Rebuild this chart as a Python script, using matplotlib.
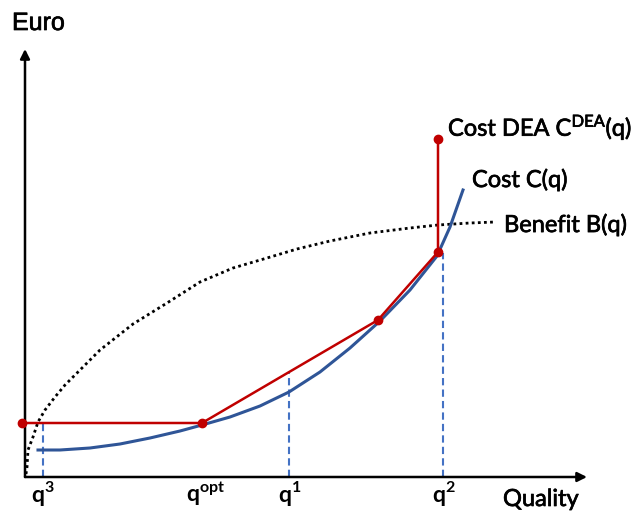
"""Esquema custo / benefício com fronteira DEA."""

import matplotlib

matplotlib.use("Agg")
import matplotlib.pyplot as plt
import matplotlib.patheffects as pe

plt.rcParams["mathtext.fontset"] = "custom"
plt.rcParams["mathtext.rm"] = "Lato"
plt.rcParams["mathtext.bf"] = "Lato:bold"

# curva de custo C(q)
custo_q = [13, 35, 65, 95, 125, 155, 177, 205, 235, 264, 295, 325, 355, 385, 412, 425, 438]
custo_euro = [27, 27, 29, 33, 39, 46, 52, 60, 71, 85, 105, 129, 156, 187, 221, 250, 287]

# curva de benefício B(q)
beneficio_q = [1, 2, 3, 8, 13, 20, 30, 40, 57, 75, 108, 142, 175, 208, 242, 272,
               305, 345, 385, 413, 445, 470]
beneficio_euro = [3, 10, 27, 40, 55, 67, 80, 92, 109, 127, 153, 174, 195, 209, 219, 228,
                  236, 244, 249, 252, 254, 255]

# fronteira DEA
dea_q = [-3, 177, 353, 413, 413]
dea_euro = [54, 54, 157, 225, 338]

# linhas de referência tracejadas
ref_q = [18, 264, 418]
ref_topo = [54, 105, 224]

# rótulos do eixo de qualidade
rotulos_q = [18, 181, 265, 419]
rotulos_txt = [r"$\mathbf{q}^{\mathbf{3}}$", r"$\mathbf{q}^{\mathbf{opt}}$",
               r"$\mathbf{q}^{\mathbf{1}}$", r"$\mathbf{q}^{\mathbf{2}}$"]

fig = plt.figure(figsize=(6.32, 5.15), dpi=100)
eixo = fig.add_axes([0, 0, 1, 1])
eixo.set_xlim(-25, 607)
eixo.set_ylim(-38, 477)
eixo.axis("off")

seta = dict(arrowstyle="-|>", mutation_scale=14, lw=1.8, color="black",
            shrinkA=0, shrinkB=0)
eixo.annotate("", xy=(0, 428), xytext=(0, 0), arrowprops=seta)
eixo.annotate("", xy=(562, 0), xytext=(0, 0), arrowprops=seta)

for x, topo in zip(ref_q, ref_topo):
    eixo.plot([x, x], [0, topo], color="#4472C4", lw=1.5, ls=(0, (3.5, 2)), zorder=1)

eixo.plot(beneficio_q, beneficio_euro, color="black", lw=2, ls=(0, (1, 1.2)), zorder=2)
eixo.plot(custo_q, custo_euro, color="#2F5597", lw=2.2, zorder=3)
eixo.plot(dea_q, dea_euro, color="#C00000", lw=1.8, marker="o", ms=6, zorder=4)

traco = [pe.withStroke(linewidth=0.5, foreground="black")]
fonte = dict(family="Lato", fontsize=17, color="black", path_effects=traco)
eixo.text(423, 350, r"Cost DEA C$^{\mathrm{DEA}}$(q)", va="center", **fonte)
eixo.text(447, 297, "Cost C(q)", va="center", **fonte)
eixo.text(479, 252, "Benefit B(q)", va="center", **fonte)
eixo.text(478, -29, "Quality", va="baseline", **fonte)
eixo.text(-13, 447, "Euro", va="baseline", family="Liberation Sans", fontsize=18,
          path_effects=traco)

for x, txt in zip(rotulos_q, rotulos_txt):
    eixo.text(x, -25, txt, ha="center", va="baseline", fontsize=16.5)

fig.savefig("out.png", dpi=100)
plt.close(fig)
